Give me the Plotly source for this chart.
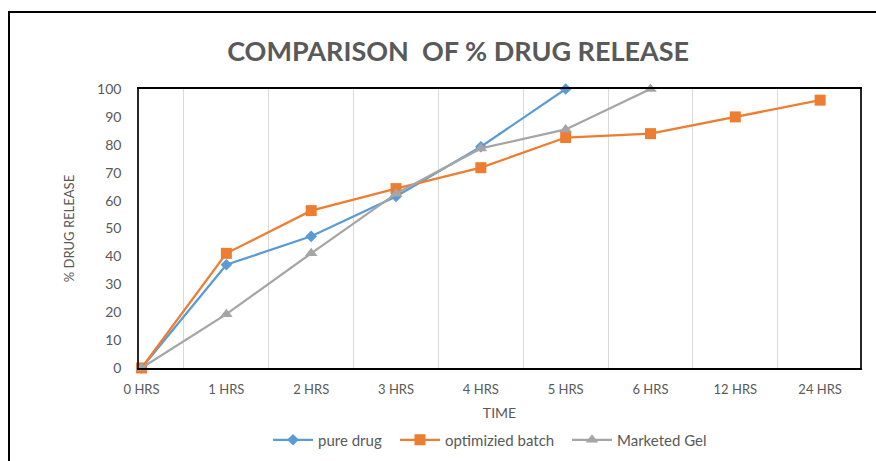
import plotly.graph_objects as go

# Sampling times (categories) and cumulative % drug release
time_labels = ["0 HRS", "1 HRS", "2 HRS", "3 HRS", "4 HRS", "5 HRS", "6 HRS", "12 HRS", "24 HRS"]
pure_drug = [0, 37, 47.2, 61.5, 79.3, 100]
optimized_batch = [0, 41.1, 56.4, 64.3, 71.8, 82.6, 84.0, 90.0, 96.0]
marketed_gel = [0, 19.3, 41.1, 62.5, 78.7, 85.5, 100]

W, H = 876, 461
ml, mr, mt, mb = 139, 16, 89, 93
pw, ph = W - ml - mr, H - mt - mb

# (name, values, colour, marker, marker size, legend id, legend left edge in px)
series = [
    ("pure drug", pure_drug, "#5B9BD5", "diamond", 9, "legend", 268),
    ("optimizied batch", optimized_batch, "#ED7D31", "square", 11, "legend2", 395),
    ("Marketed Gel", marketed_gel, "#A5A5A5", "triangle-up", 11, "legend3", 567),
]

text_color = "#595959"
font_family = "Lato, 'Open Sans', sans-serif"

fig = go.Figure()
legend_layouts = {}
for name, values, color, symbol, size, leg, left_px in series:
    fig.add_trace(go.Scatter(
        x=list(range(len(values))),
        y=values,
        name=name,
        mode="lines+markers",
        line=dict(color=color, width=2.25),
        marker=dict(symbol=symbol, size=size, color=color, line=dict(width=0)),
        cliponaxis=False,
        legend=leg,
        showlegend=True,
    ))
    legend_layouts[leg] = dict(
        orientation="h", x=(left_px - ml) / pw, xanchor="left",
        y=-(440 - mt - ph) / ph, yanchor="middle",
        font=dict(size=15, color=text_color), itemwidth=40,
        bgcolor="rgba(0,0,0,0)",
    )

# outer chart frame (runs past the right and bottom edges)
fig.add_shape(
    type="rect", xref="paper", yref="paper",
    x0=(9 - ml) / pw, x1=(W + 20 - ml) / pw,
    y0=-(H + 20 - mt - ph) / ph, y1=(H - 12 - mb) / ph,
    line=dict(color="#000000", width=2), fillcolor="rgba(0,0,0,0)", layer="below",
)

fig.update_layout(
    width=W, height=H,
    showlegend=True,
    margin=dict(l=ml, r=mr, t=mt, b=mb, autoexpand=False),
    paper_bgcolor="white", plot_bgcolor="white",
    font=dict(family=font_family, color=text_color, size=13),
    title=dict(
        text="<b>COMPARISON  OF % DRUG RELEASE</b>",
        x=0.523, xanchor="center", y=1 - 52 / H, yanchor="middle",
        font=dict(family=font_family, size=27, color=text_color),
    ),
    xaxis=dict(
        range=[-0.03, 8.47],
        tickvals=list(range(len(time_labels))),
        ticktext=time_labels,
        showgrid=False,
        minor=dict(tick0=0.5, dtick=1, showgrid=True, gridcolor="#D9D9D9", gridwidth=1),
        showline=True, linecolor="#000000", linewidth=1.5, mirror=True,
        ticks="", ticklabelstandoff=9,
        tickfont=dict(size=13, color=text_color),
        title=dict(text="TIME", font=dict(size=14, color=text_color), standoff=12),
        zeroline=False, automargin=False,
    ),
    yaxis=dict(
        range=[0, 100], dtick=10,
        showgrid=False,
        showline=True, linecolor="#262626", linewidth=1.5, mirror=True,
        ticks="", ticklabelstandoff=13,
        tickfont=dict(size=14, color=text_color),
        title=dict(text="% DRUG RELEASE", font=dict(size=13, color=text_color), standoff=20),
        zeroline=False, automargin=False,
    ),
    **legend_layouts,
)

fig.write_html("out.html")
